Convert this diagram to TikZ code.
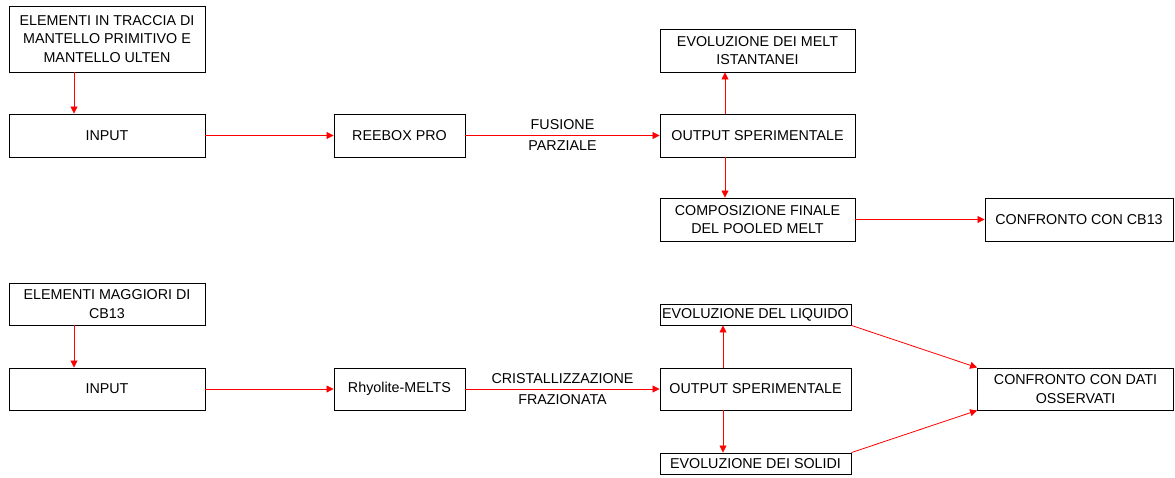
\documentclass[tikz,border=0pt]{standalone}
\usepackage{fontspec}
\setmainfont{Liberation Sans}
\usetikzlibrary{arrows.meta}
\begin{document}
\begin{tikzpicture}[x=1pt,y=-1pt,
  box/.style={draw=black,line width=0.9pt,fill=white,inner sep=0pt,align=center,
    font=\fontsize{14.3}{18.5}\selectfont},
  conn/.style={draw=red,line width=0.8pt,-{Triangle[length=7pt,width=7pt]}},
  lbl/.style={align=center,font=\fontsize{14.3}{21}\selectfont,inner sep=0pt}]
\useasboundingbox (0,0) rectangle (1175,477);
% top row
\node[box,minimum width=196pt,minimum height=66pt] (A1) at (107,39) {ELEMENTI IN TRACCIA DI\\MANTELLO PRIMITIVO E\\MANTELLO ULTEN};
\node[box,minimum width=196pt,minimum height=43pt] (IN1) at (107,135.5) {INPUT};
\node[box,minimum width=131pt,minimum height=43pt] (REE) at (399.5,135.5) {REEBOX PRO};
\node[box,minimum width=195pt,minimum height=43pt] (OUT1) at (757.5,135.5) {OUTPUT SPERIMENTALE};
\node[box,minimum width=195pt,minimum height=43pt] (EVO1) at (757.5,50.5) {EVOLUZIONE DEI MELT\\ISTANTANEI};
\node[box,minimum width=195pt,minimum height=43pt] (COMP) at (757.5,219.5) {COMPOSIZIONE FINALE\\DEL POOLED MELT};
\node[box,minimum width=188pt,minimum height=43pt] (CB) at (1079,219.5) {CONFRONTO CON CB13};
% bottom row
\node[box,minimum width=196pt,minimum height=42pt] (A2) at (107,304) {ELEMENTI MAGGIORI DI\\CB13};
\node[box,minimum width=196pt,minimum height=42pt] (IN2) at (107,389) {INPUT};
\node[box,minimum width=131pt,minimum height=42pt] (RHY) at (399.5,389) {Rhyolite-MELTS};
\node[box,minimum width=191pt,minimum height=42pt] (OUT2) at (755.5,389) {OUTPUT SPERIMENTALE};
\node[box,minimum width=191pt,minimum height=21pt] (LIQ) at (755.5,314.5) {EVOLUZIONE DEL LIQUIDO};
\node[box,minimum width=191pt,minimum height=21pt] (SOL) at (755.5,463.5) {EVOLUZIONE DEI SOLIDI};
\node[box,minimum width=196pt,minimum height=42pt] (DATI) at (1075.5,389) {CONFRONTO CON DATI\\OSSERVATI};
% connectors top
\draw[conn] ([xshift=-33pt]A1.south) -- ([xshift=-33pt]IN1.north);
\draw[conn] (IN1.east) -- (REE.west);
\draw[conn] (REE.east) -- node[lbl] {FUSIONE\\PARZIALE} (OUT1.west);
\draw[conn] ([xshift=-32.5pt]OUT1.north) -- ([xshift=-32.5pt]EVO1.south);
\draw[conn] ([xshift=-32.5pt]OUT1.south) -- ([xshift=-32.5pt]COMP.north);
\draw[conn] (COMP.east) -- (CB.west);
% connectors bottom
\draw[conn] ([xshift=-33pt]A2.south) -- ([xshift=-33pt]IN2.north);
\draw[conn] (IN2.east) -- (RHY.west);
\draw[conn] (RHY.east) -- node[lbl] {CRISTALLIZZAZIONE\\FRAZIONATA} (OUT2.west);
\draw[conn] ([xshift=-32.5pt]OUT2.north) -- ([xshift=-32.5pt]LIQ.south);
\draw[conn] ([xshift=-32.5pt]OUT2.south) -- ([xshift=-32.5pt]SOL.north);
\draw[conn] (LIQ.south east) -- (DATI.north west);
\draw[conn] (SOL.north east) -- (DATI.south west);
\end{tikzpicture}
\end{document}
